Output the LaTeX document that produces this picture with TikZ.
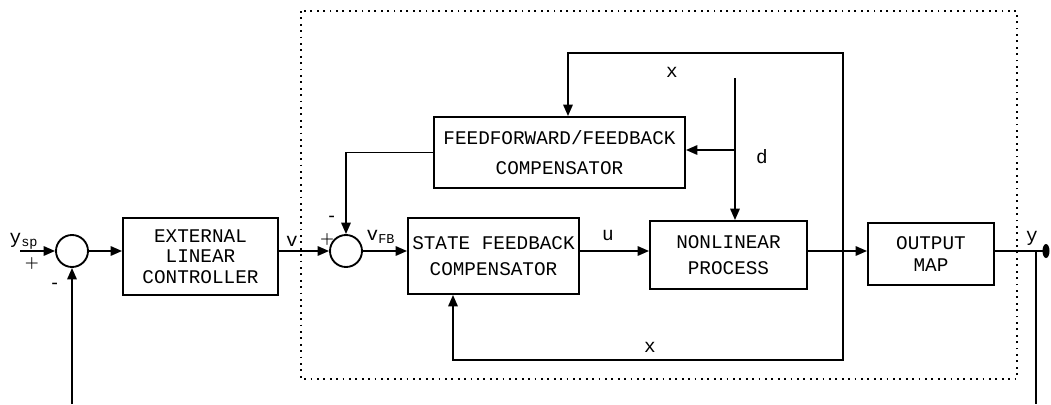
\documentclass[tikz,border=0pt]{standalone}
\usepackage{fontspec}
\newfontfamily\mono{Liberation Mono}
\usetikzlibrary{arrows.meta,calc}
\tikzset{
  wire/.style={line width=1.4pt},
  arr/.style={wire,-{Triangle[length=8.5pt,width=7pt]}},
  blk/.style={draw,line width=1.4pt,align=center,inner sep=0pt,font=\mono\fontsize{14.5}{20}\selectfont},
  sumc/.style={circle,draw,line width=1.4pt,minimum size=24pt,inner sep=0pt},
  lbl/.style={font=\mono\fontsize{14.5}{16}\selectfont,inner sep=0pt},
  sign/.style={font=\bfseries\fontsize{12}{14}\selectfont,inner sep=0pt},
  frame/.style={line width=1.6pt,dash pattern=on 1.4pt off 3.4pt}
}
\begin{document}
\begin{tikzpicture}[x=0.75pt,y=-0.75pt]
\useasboundingbox (0,0) rectangle (1051,404);
% dotted frame
\draw[frame] (301,11) rectangle (1017,379);
% junctions
\node[sumc] (s1) at (72,251) {};
\node[sumc] (s2) at (346,251) {};
% blocks
\node[blk,minimum width=116.25pt,minimum height=57.75pt,font=\mono\fontsize{14.5}{15.5}\selectfont] (elc) at (200.5,256.5) {EXTERNAL\\LINEAR\\CONTROLLER};
\node[blk,minimum width=188.25pt,minimum height=53.25pt,font=\mono\fontsize{14.5}{22}\selectfont] (ff) at (559.5,152.5) {FEEDFORWARD/FEEDBACK\\COMPENSATOR};
\node[blk,minimum width=128.25pt,minimum height=57pt] (sf) at (493.5,256) {STATE FEEDBACK\\COMPENSATOR};
\node[blk,minimum width=117.75pt,minimum height=51pt] (np) at (728.5,255) {NONLINEAR\\PROCESS};
\node[blk,minimum width=94.5pt,minimum height=46.5pt,font=\mono\fontsize{14.5}{16}\selectfont] (om) at (931,254) {OUTPUT\\MAP};
% coordinates
\coordinate (ysp) at (20,251);
\coordinate (fbl) at (72,404);
\coordinate (xtap) at (843,251);
\coordinate (xtr) at (843,53);
\coordinate (xtl) at (568,53);
\coordinate (xbr) at (843,360);
\coordinate (xbl) at (453,360);
\coordinate (dtop) at (735,78);
\coordinate (dbr) at (735,150);
\coordinate (ytap) at (1036,251);
\coordinate (ybot) at (1036,404);
\coordinate (yend) at (1046,251);
% main path
\draw[arr] (ysp) -- (s1);
\draw[arr] (s1) -- (s1 -| elc.west);
\draw[arr] (elc.east |- s2) -- (s2);
\draw[arr] (s2) -- (s2 -| sf.west);
\draw[arr] (sf.east |- s2) -- (np.west |- s2);
\draw[arr] (np.east |- s2) -- (om.west |- s2);
\draw[wire] (om.east |- s2) -- (yend);
\fill (yend) ellipse (3.5 and 7);
% feedback of y
\draw[wire] (ytap) -- (ybot);
\draw[arr] (fbl) -- (s1);
% FF/FB output to junction
\draw[arr] (ff.west) -- (s2 |- ff.west) -- (s2);
% state loops
\draw[arr] (xtap) -- (xtr) -- (xtl) -- (xtl |- ff.north);
\draw[arr] (xtap) -- (xbr) -- (xbl) -- (xbl |- sf.south);
% disturbance
\draw[arr] (dtop) -- (dtop |- np.north);
\draw[arr] (dbr) -- (dbr -| ff.east);
% labels
\node[lbl] (lysp) at (24,241) {y\textsubscript{sp}};
\node[sign] (p1) at (32,264) {+};
\node[sign] (m1) at (55,285) {-};
\node[lbl] (lv) at (292,241) {v};
\node[sign] (p2) at (327,240) {+};
\node[sign] (m2) at (332,218) {-};
\node[lbl] (lvfb) at (381,237) {v\textsubscript{FB}};
\node[lbl] (lu) at (608,235) {u};
\node[lbl] (lx1) at (672,72) {x};
\node[lbl] (lx2) at (650,347) {x};
\node[lbl] (ld) at (762,157) {d};
\node[lbl] (ly) at (1032,238) {y};
\end{tikzpicture}
\end{document}
